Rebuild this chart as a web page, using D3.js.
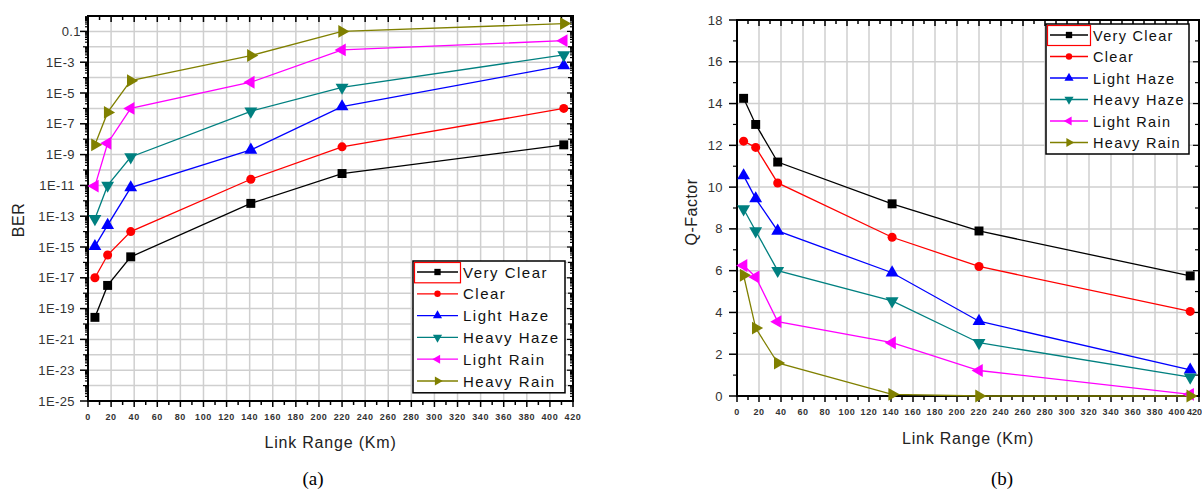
<!DOCTYPE html>
<html>
<head>
<meta charset="utf-8">
<script src="https://cdn.jsdelivr.net/npm/d3@7"></script>
<style>
  html, body { margin: 0; padding: 0; background: #fff; }
  svg text { font-family: Arial, "Liberation Sans", sans-serif; }
</style>
</head>
<body>
<svg id="chart" width="1202" height="490"></svg>
<script>
// Series names, colours and marker shapes
const seriesNames = ['Very Clear', 'Clear', 'Light Haze', 'Heavy Haze', 'Light Rain', 'Heavy Rain'];
const seriesColors = ['#000000', '#ff0000', '#0000ff', '#008080', '#ff00ff', '#808000'];
const seriesShapes = ['square', 'circle', 'up', 'down', 'left', 'right'];

// Link range (km) of each point
const linkRange = [6, 17, 37, 141, 220, 412];

// (a) BER values
const berVeryClear = [2.7e-20, 3.2e-18, 2.3e-16, 6.8e-13, 5.9e-11, 4.3e-9];
const berClear = [1e-17, 3e-16, 1e-14, 2.5e-11, 3.2e-9, 1e-6];
const berLightHaze = [1.1e-15, 2.6e-14, 7.2e-12, 2e-9, 1.3e-6, 6e-4];
const berHeavyHaze = [6.9e-14, 1e-11, 7e-10, 6.5e-7, 2.3e-5, 3e-3];
const berLightRain = [9e-12, 5.5e-9, 1e-6, 5e-5, 6.3e-3, 0.025];
const berHeavyRain = [4.3e-9, 5.5e-7, 6.3e-5, 2.7e-3, 0.1, 0.32];

// (b) Q-factor values
const qVeryClear = [14.25, 13.0, 11.2, 9.2, 7.9, 5.75];
const qClear = [12.2, 11.9, 10.2, 7.6, 6.2, 4.05];
const qLightHaze = [10.55, 9.45, 7.9, 5.9, 3.58, 1.25];
const qHeavyHaze = [8.95, 7.9, 6.0, 4.55, 2.55, 0.9];
const qLightRain = [6.25, 5.7, 3.56, 2.55, 1.22, 0.08];
const qHeavyRain = [5.78, 3.25, 1.58, 0.08, 0, 0];

// Tick labels
const xTicks = d3.range(0, 421, 20);
const berTickExp = d3.range(-25, 0, 2);
const qTicks = d3.range(0, 19, 2);

const berSeries = [berVeryClear, berClear, berLightHaze, berHeavyHaze, berLightRain, berHeavyRain];
const qSeries = [qVeryClear, qClear, qLightHaze, qHeavyHaze, qLightRain, qHeavyRain];

const svg = d3.select('#chart');

function markerPath(shape, size) {
    if (shape === 'square') return d3.symbol(d3.symbolSquare, size)();
    if (shape === 'circle') return d3.symbol(d3.symbolCircle, size * 0.8)();
    return d3.symbol(d3.symbolTriangle, size * 0.9)();
}
function markerRot(shape) {
    return { up: 0, down: 180, left: -90, right: 90 }[shape] || 0;
}

function drawPanel(opt) {
    const g = svg.append('g');
    const x = d3.scaleLinear().domain([0, 420]).range([opt.left, opt.right]);
    const y = opt.y;

    // grid
    g.append('g').selectAll('line').data(xTicks.slice(1, -1)).enter().append('line')
        .attr('x1', d => x(d)).attr('x2', d => x(d))
        .attr('y1', opt.top).attr('y2', opt.bottom)
        .attr('stroke', '#cfcfcf').attr('stroke-width', 1.5);
    g.append('g').selectAll('line').data(opt.hGrid).enter().append('line')
        .attr('x1', opt.left).attr('x2', opt.right)
        .attr('y1', d => y(d)).attr('y2', d => y(d))
        .attr('stroke', '#cfcfcf').attr('stroke-width', 1.5);

    // x ticks (bottom outward, top inward) every 10
    const xMinor = d3.range(0, 421, 10);
    g.append('g').selectAll('line').data(xMinor).enter().append('line')
        .attr('x1', d => x(d)).attr('x2', d => x(d))
        .attr('y1', opt.bottom).attr('y2', d => opt.bottom + (d % 20 === 0 ? 6 : 4))
        .attr('stroke', '#000').attr('stroke-width', 1.5);
    g.append('g').selectAll('line').data(xMinor).enter().append('line')
        .attr('x1', d => x(d)).attr('x2', d => x(d))
        .attr('y1', opt.top).attr('y2', d => opt.top + (d % 20 === 0 ? 6 : 4))
        .attr('stroke', '#000').attr('stroke-width', 1.5);

    // tick labels; the one at the window edge is right-aligned so it stays inside
    const fitsEdge = d => x(d) + 9 > 1202;
    g.append('g').selectAll('text').data(xTicks).enter().append('text')
        .attr('x', d => fitsEdge(d) ? 1202 : x(d)).attr('y', opt.bottom + 19)
        .attr('text-anchor', d => fitsEdge(d) ? 'end' : 'middle')
        .style('font-size', '9px').style('font-weight', 'bold').style('fill', '#333')
        .style('letter-spacing', d => fitsEdge(d) ? '0px' : '0.6px')
        .text(d => d);

    // y ticks
    g.append('g').selectAll('line').data(opt.yMajor).enter().append('line')
        .attr('x1', opt.left - 8).attr('x2', opt.left)
        .attr('y1', d => y(d)).attr('y2', d => y(d))
        .attr('stroke', '#000').attr('stroke-width', 1.5);
    g.append('g').selectAll('line').data(opt.yMinor).enter().append('line')
        .attr('x1', d => opt.left - d.len).attr('x2', opt.left)
        .attr('y1', d => y(d.v)).attr('y2', d => y(d.v))
        .attr('stroke', '#000').attr('stroke-width', 1.2);
    g.append('g').selectAll('line').data(opt.yMinor.concat(opt.yMajor.map(v => ({ v: v, len: 6 })))).enter().append('line')
        .attr('x1', d => opt.right - d.len).attr('x2', opt.right)
        .attr('y1', d => y(d.v)).attr('y2', d => y(d.v))
        .attr('stroke', '#000').attr('stroke-width', 1.2);
    g.append('g').selectAll('text').data(opt.yMajor).enter().append('text')
        .attr('x', d => opt.left - opt.yLabelGap(d)).attr('y', d => y(d) + 4.5)
        .attr('text-anchor', 'end')
        .style('font-size', '13px').style('fill', '#333')
        .style('letter-spacing', '0.4px')
        .text(opt.yFormat);

    // frame
    g.append('rect')
        .attr('x', opt.left).attr('y', opt.top)
        .attr('width', opt.right - opt.left).attr('height', opt.bottom - opt.top)
        .attr('fill', 'none').attr('stroke', '#000').attr('stroke-width', 2);

    // series
    const line = d3.line().x((d, i) => x(linkRange[i])).y(d => y(d));
    opt.series.forEach((vals, s) => {
        g.append('path').datum(vals)
            .attr('d', line).attr('fill', 'none')
            .attr('stroke', seriesColors[s]).attr('stroke-width', 1.3);
    });
    opt.series.forEach((vals, s) => {
        g.append('g').selectAll('path').data(vals).enter().append('path')
            .attr('d', markerPath(seriesShapes[s], 80))
            .attr('transform', (d, i) => `translate(${x(linkRange[i])},${y(d)}) rotate(${markerRot(seriesShapes[s])})`)
            .attr('fill', seriesColors[s]);
    });

    // axis titles
    g.append('text')
        .attr('x', (opt.left + opt.right) / 2).attr('y', opt.titleY)
        .attr('text-anchor', 'middle')
        .style('font-size', '16px').style('fill', '#222').style('letter-spacing', '0.8px')
        .text('Link Range (Km)');
    g.append('text')
        .attr('transform', `translate(${opt.yTitleX},${opt.yTitleY}) rotate(-90)`)
        .attr('text-anchor', 'middle')
        .style('font-size', '16px').style('fill', '#222').style('letter-spacing', '0.5px')
        .text(opt.yTitle);

    // caption
    g.append('text')
        .attr('x', opt.captionX).attr('y', 485)
        .attr('text-anchor', 'middle')
        .style('font-family', '"Liberation Serif", "Times New Roman", serif')
        .style('font-size', '19px').style('fill', '#000')
        .text(opt.caption);

    // legend
    const lg = g.append('g').attr('transform', `translate(${opt.legend.x},${opt.legend.y})`);
    const rowH = opt.legend.rowH;
    lg.append('rect')
        .attr('x', 0).attr('y', 0)
        .attr('width', opt.legend.w).attr('height', rowH * 6 + 1)
        .attr('fill', '#fff').attr('stroke', '#000').attr('stroke-width', 1.5);
    lg.append('rect')
        .attr('x', 1.5).attr('y', 1.5).attr('width', opt.legend.sw + 5).attr('height', rowH - 1.5)
        .attr('fill', 'none').attr('stroke', '#ff0000').attr('stroke-width', 1.2);
    seriesNames.forEach((name, s) => {
        const cy = 11 + s * rowH;
        lg.append('line')
            .attr('x1', 4).attr('x2', 4 + opt.legend.sw)
            .attr('y1', cy).attr('y2', cy)
            .attr('stroke', seriesColors[s]).attr('stroke-width', 1.3);
        lg.append('path')
            .attr('d', markerPath(seriesShapes[s], 40))
            .attr('transform', `translate(${4 + opt.legend.sw / 2},${cy}) rotate(${markerRot(seriesShapes[s])})`)
            .attr('fill', seriesColors[s]);
        lg.append('text')
            .attr('x', opt.legend.sw + 9).attr('y', cy + 5.5)
            .style('font-size', opt.legend.fs + 'px').style('fill', '#111')
            .style('letter-spacing', opt.legend.ls + 'px')
            .text(name);
    });
}

// (a) BER
const yBer = d3.scaleLog().domain([1e-25, 1]).range([401, 16]);
const berMinor = [];
d3.range(-25, 0).forEach(e => {
    if (e % 2 === 0) berMinor.push({ v: Math.pow(10, e), len: 5 });
    [2, 3, 4, 5, 6, 7, 8, 9].forEach(k => berMinor.push({ v: k * Math.pow(10, e), len: 3 }));
});
drawPanel({
    left: 88, right: 573, top: 16, bottom: 401,
    y: yBer,
    hGrid: d3.range(-24, 0).map(e => Math.pow(10, e)),
    yMajor: berTickExp.map(e => Math.pow(10, e)),
    yMinor: berMinor,
    yFormat: d => {
        const e = Math.round(Math.log10(d));
        return e === -1 ? '0.1' : '1E-' + (-e);
    },
    yLabelGap: d => (Math.round(Math.log10(d)) === -1 ? 7 : 13),
    series: berSeries,
    yTitle: 'BER', yTitleX: 24, yTitleY: 220,
    titleY: 448,
    caption: '(a)', captionX: 313,
    legend: { x: 413, y: 261, w: 152, sw: 41, rowH: 21.8, fs: 15, ls: 1.5 }
});

// (b) Q-Factor
const yQ = d3.scaleLinear().domain([0, 18]).range([396, 20]);
drawPanel({
    left: 737, right: 1199, top: 20, bottom: 396,
    y: yQ,
    hGrid: qTicks.slice(1, -1),
    yMajor: qTicks,
    yMinor: d3.range(1, 18, 2).map(v => ({ v: v, len: 4 })),
    yFormat: d => d,
    yLabelGap: () => 14,
    series: qSeries,
    yTitle: 'Q-Factor', yTitleX: 697, yTitleY: 212,
    titleY: 444,
    caption: '(b)', captionX: 1002,
    legend: { x: 1046, y: 24, w: 143, sw: 38, rowH: 21.5, fs: 14.5, ls: 1.3 }
});
</script>
</body>
</html>
